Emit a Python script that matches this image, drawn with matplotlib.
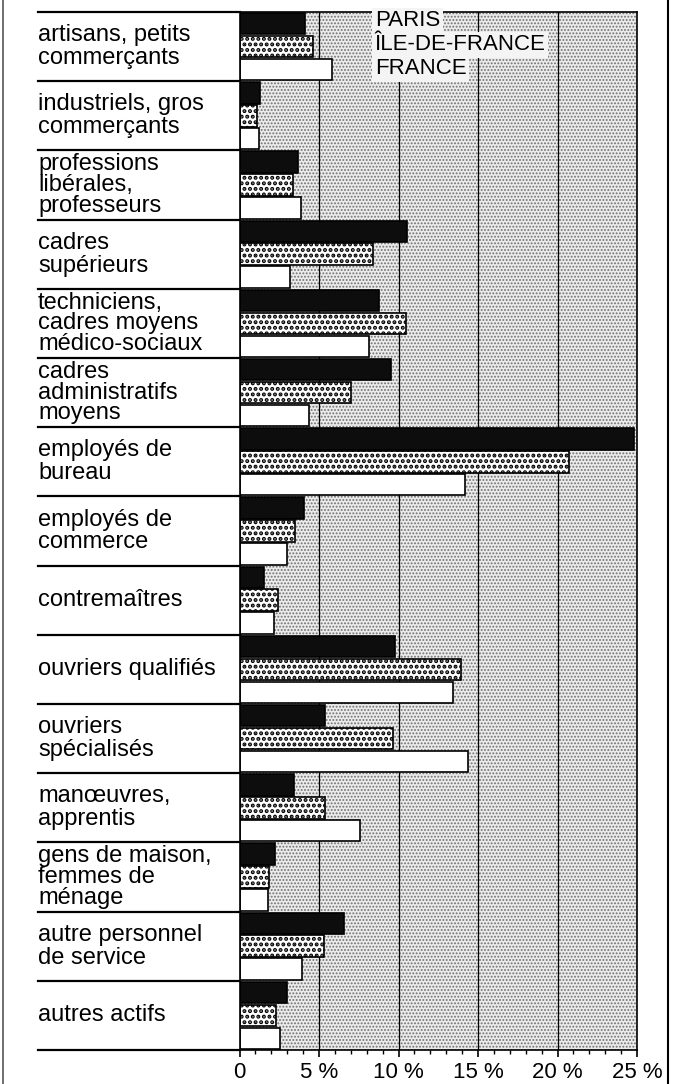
import numpy as np
import matplotlib
matplotlib.use('Agg')
from matplotlib import pyplot as plt
from matplotlib.patches import Rectangle
from matplotlib.lines import Line2D
import matplotlib.transforms as mtransforms

categories = [
    'artisans, petits\ncommerçants',
    'industriels, gros\ncommerçants',
    'professions\nlibérales,\nprofesseurs',
    'cadres\nsupérieurs',
    'techniciens,\ncadres moyens\nmédico-sociaux',
    'cadres\nadministratifs\nmoyens',
    'employés de\nbureau',
    'employés de\ncommerce',
    'contremaîtres',
    'ouvriers qualifiés',
    'ouvriers\nspécialisés',
    'manœuvres,\napprentis',
    'gens de maison,\nfemmes de\nménage',
    'autre personnel\nde service',
    'autres actifs',
]
# % of working population, per zone
paris = [4.1, 1.3, 3.7, 10.55, 8.8, 9.5, 24.8, 4.05, 1.55, 9.8, 5.4, 3.45, 2.25, 6.55, 3.0]
idf = [4.65, 1.1, 3.35, 8.4, 10.45, 7.0, 20.7, 3.5, 2.45, 13.9, 9.65, 5.35, 1.85, 5.3, 2.3]
france = [5.8, 1.25, 3.85, 3.2, 8.15, 4.4, 14.2, 3.0, 2.15, 13.45, 14.35, 7.55, 1.8, 3.9, 2.55]
zones = ['PARIS', 'ÎLE-DE-FRANCE', 'FRANCE']
xticks = [0, 5, 10, 15, 20, 25]
xticklabels = ['0', '5 %', '10 %', '15 %', '20 %', '25 %']

plt.rcParams['font.family'] = ['Liberation Sans', 'DejaVu Sans']

W, H = 697, 1084
fig = plt.figure(figsize=(W / 100, H / 100), dpi=100)
x0, x1 = 239.5, 637
y_top, y_bot = 12, 1050
ax = fig.add_axes([x0 / W, 1 - y_bot / H, (x1 - x0) / W, (y_bot - y_top) / H])

n = len(categories)
y = np.arange(n)
bh = 0.31

# stippled background
bg = Rectangle((0, 0), 1, 1, transform=ax.transAxes, facecolor='#ebebeb',
               edgecolor='#707070', hatch='.....', lw=0, zorder=0)
if hasattr(bg, 'set_hatch_linewidth'):
    bg.set_hatch_linewidth(0.9)
ax.add_patch(bg)
ax.set_facecolor('white')

for g in [5, 10, 15, 20]:
    ax.axvline(g, color='black', lw=0.9, zorder=1)

plt.rcParams['hatch.linewidth'] = 2.0
ax.barh(y - 0.33, paris, height=bh, color='#0d0d0d', edgecolor='black', lw=1.2, zorder=3)
bars = ax.barh(y, idf, height=bh, color='white', edgecolor='black', hatch='...', lw=1.2, zorder=3)
for b in bars:
    if hasattr(b, 'set_hatch_linewidth'):
        b.set_hatch_linewidth(2.0)
ax.barh(y + 0.33, france, height=bh, color='white', edgecolor='black', lw=1.2, zorder=3)

ax.set_xlim(0, 25)
ax.set_ylim(n - 0.5, -0.5)
ax.set_yticks([])
ax.set_xticks(xticks)
ax.set_xticklabels(xticklabels, fontsize=16)
ax.set_xticks(np.arange(0, 26, 1), minor=True)
ax.tick_params(axis='x', which='major', direction='out', length=5, width=1.2, pad=4)
ax.tick_params(axis='x', which='minor', direction='out', length=3, width=1)
for s in ax.spines.values():
    s.set_linewidth(1.2)
    s.set_zorder(4)

# category labels and separators in the left margin
trans = mtransforms.blended_transform_factory(fig.transFigure, ax.transData)
for i, lab in enumerate(categories):
    nl = lab.count('\n')
    ax.text(38 / W, i, lab, transform=trans, ha='left', va='center',
            fontsize=17, linespacing=0.92 if nl == 2 else 1.05)
for b in np.arange(-0.5, n, 1.0):
    ax.add_line(Line2D([38 / W, x0 / W], [b, b], transform=trans, color='black',
                       lw=1.6, clip_on=False))

# zone names
for k, z in enumerate(zones):
    ax.text(8.5, -0.37 + k * 0.345, z, ha='left', va='center', fontsize=16, zorder=5,
            bbox=dict(boxstyle='square,pad=0.12', facecolor='#f4f4f4', edgecolor='none'))

# outer frame
fig.add_artist(Line2D([668 / W, 668 / W], [0, 1], transform=fig.transFigure, color='black', lw=1.5))
fig.add_artist(Line2D([2.5 / W, 2.5 / W], [0, 1], transform=fig.transFigure, color='#555555', lw=1.2))

fig.savefig('out.png', dpi=100)
